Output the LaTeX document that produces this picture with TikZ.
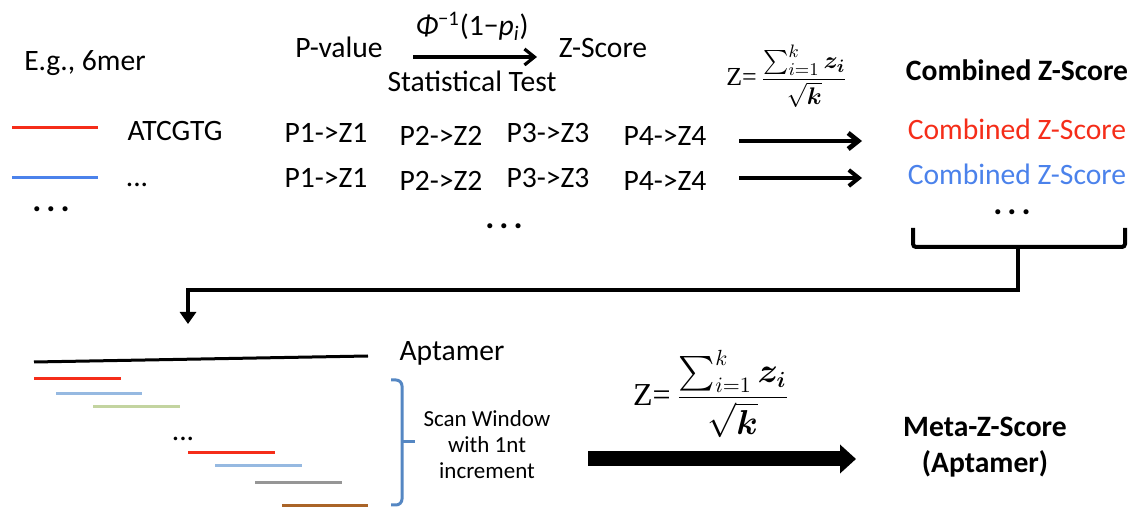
\documentclass[tikz,border=0pt]{standalone}
\usepackage{fontspec}
\setmainfont{Carlito}
\newfontfamily\zfont{Liberation Serif}
\usepackage{amsmath}
\usetikzlibrary{positioning,arrows.meta}

\definecolor{kred}{RGB}{245,45,25}
\definecolor{kblue}{RGB}{75,130,235}
\definecolor{lblue}{RGB}{150,185,225}
\definecolor{lgreen}{RGB}{195,212,160}
\definecolor{kgray}{RGB}{150,150,150}
\definecolor{kbrown}{RGB}{170,100,40}
\definecolor{bracecol}{RGB}{85,135,195}

\newcommand{\bigdots}{{\fontsize{17}{20}\selectfont\bfseries .\kern2.5pt.\kern2.5pt.}}
\newcommand{\zformula}{$\text{\zfont Z=}\,\dfrac{\textstyle\sum_{i=1}^{k} \boldsymbol{z_i}}{\sqrt{\boldsymbol{k}}}$}

\begin{document}
\begin{tikzpicture}[x=0.5pt, y=-0.5pt,
    txt/.style={font=\fontsize{14.8}{18}\selectfont, inner sep=0pt, anchor=base},
    dots/.style={txt, text height=3pt, text depth=0pt},
    small/.style={font=\fontsize{11.5}{13}\selectfont, inner sep=0pt, align=center},
    seq/.style={line width=1.5pt},
    flow/.style={line width=2pt, -{Straight Barb[length=5pt,width=8pt]}}]
    \useasboundingbox (0,0) rectangle (1140,512);

    % Nodes (top)
    \node[txt] (eg) at (85,71) {E.g., 6mer};
    \node[txt] (pval) at (339,58) {P-value};
    \node[txt] (zsc) at (603,58) {Z-Score};
    \coordinate (t1) at (413,57);
    \coordinate (t2) at (537,57);
    \node[txt] (phi) at (472,36) {\textit{Φ}\textsuperscript{−1}(1−\textit{p}\textsubscript{\textit{i}})};
    \node[txt] (stat) at (472,92) {Statistical Test};
    \node[inner sep=0pt] (form1) at (787,76) {\fontsize{13}{15}\selectfont\zformula};
    \node[txt] (comb) at (1017,81) {\textbf{Combined Z-Score}};

    \node[txt] (atcg) at (175,141) {ATCGTG};
    \node[dots] (more) at (137,187) {...};
    \node[dots] (dots1) at (51,212) {\bigdots};

    \node[txt] (pa1) at (326,143) {P1->Z1};
    \node[txt] (pa2) at (441,146) {P2->Z2};
    \node[txt] (pa3) at (548,143) {P3->Z3};
    \node[txt] (pa4) at (665,146) {P4->Z4};
    \node[txt] (pb1) at (326,188) {P1->Z1};
    \node[txt] (pb2) at (441,191) {P2->Z2};
    \node[txt] (pb3) at (548,188) {P3->Z3};
    \node[txt] (pb4) at (665,191) {P4->Z4};
    \node[dots] (dots2) at (504,229) {\bigdots};

    \node[txt, text=kred] (combr) at (1017,140) {Combined Z-Score};
    \node[txt, text=kblue] (combb) at (1017,185) {Combined Z-Score};
    \node[dots] (dots3) at (1012,215) {\bigdots};

    % Nodes (bottom)
    \node[txt] (apt) at (452,361) {Aptamer};
    \node[dots] (dots4) at (183,441) {...};
    \node[small] (scan) at (487,445) {Scan Window\\with 1nt\\increment};
    \node[inner sep=0pt] (form2) at (711,394) {\fontsize{16}{18}\selectfont\zformula};
    \node[txt, align=center, anchor=center] (meta) at (985,447) {\textbf{Meta-Z-Score}\\\textbf{(Aptamer)}};

    % Sequences
    \draw[seq, kred] (12,128) -- (98,128);
    \draw[seq, kblue] (12,178) -- (98,178);
    \draw[seq] (34,362) -- (368,356);
    \draw[seq, kred] (34,379) -- (121,379);
    \draw[seq, lblue] (56,394) -- (142,394);
    \draw[seq, lgreen] (93,407) -- (180,407);
    \draw[seq, kred] (188,453) -- (275,453);
    \draw[seq, lblue] (215,466) -- (302,466);
    \draw[seq, kgray] (255,483) -- (342,483);
    \draw[seq, kbrown] (282,506) -- (368,506);

    % Arrows
    \draw[flow, line width=1.6pt] (t1) -- (t2);
    \coordinate (ra1) at (739,141);
    \coordinate (ra2) at (862,141);
    \coordinate (rb1) at (739,178);
    \coordinate (rb2) at (862,178);
    \draw[flow, line width=2.4pt] (ra1) -- (ra2);
    \draw[flow] (rb1) -- (rb2);

    \coordinate (bl) at (913,228);
    \coordinate (br) at (1125,228);
    \coordinate (stem) at (1018,247);
    \coordinate (down) at (188,324);
    \draw[line width=2pt, rounded corners=1.5pt] (bl) -- (913,247) -- (1125,247) -- (br);
    \draw[line width=2pt, -{Triangle[length=6pt,width=8pt]}] (stem) -- (1018,290) -- (188,290) -- (down);

    % Scan window brace
    \coordinate (btop) at (391,380);
    \coordinate (bbot) at (391,505);
    \coordinate (btip) at (415,442);
    \draw[bracecol, line width=1.5pt, rounded corners=3pt] (btop) -- (402,380) -- (402,505) -- (bbot);
    \draw[bracecol, line width=1.5pt] (402,442) -- (btip);

    \coordinate (big1) at (588,459);
    \coordinate (big2) at (856,459);
    \draw[line width=7.5pt, -{Triangle[length=8pt,width=14pt]}] (big1) -- (big2);
\end{tikzpicture}
\end{document}
